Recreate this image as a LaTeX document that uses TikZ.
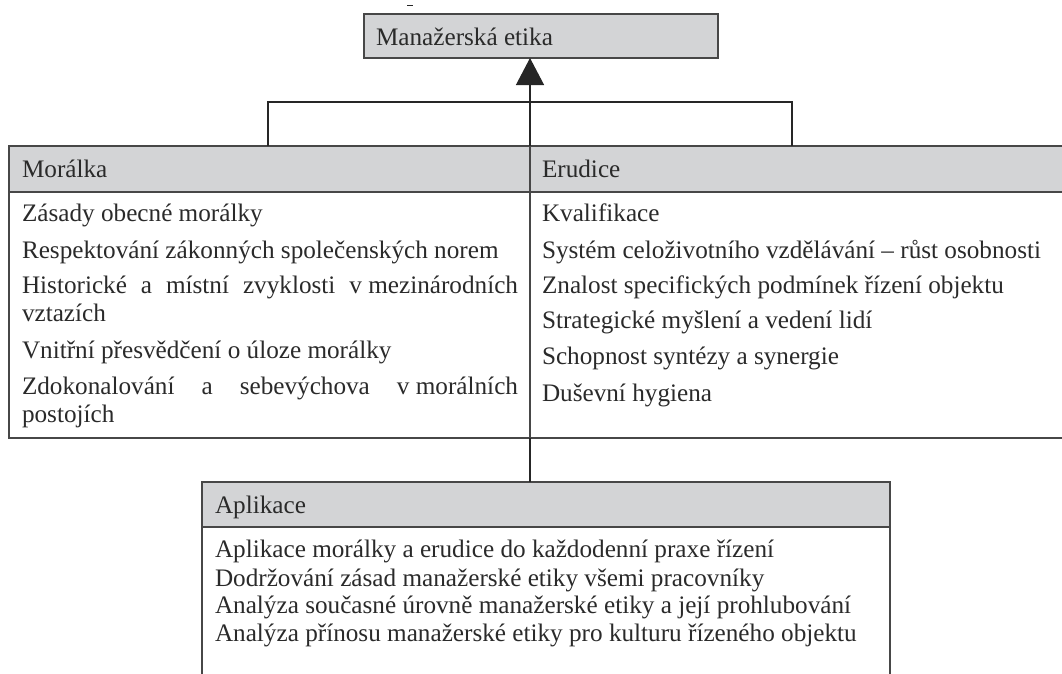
\documentclass[tikz,border=0pt]{standalone}
\usepackage{fontspec}
\setmainfont{Liberation Serif}
\usetikzlibrary{arrows.meta}
\definecolor{hdr}{HTML}{D3D4D6}
\definecolor{ln}{HTML}{474747}
\definecolor{txt}{HTML}{2A2A2A}
\newcommand\diafont{\fontsize{25.2}{28.5}\selectfont\hyphenpenalty 10000\relax\tolerance 10000\relax}
\begin{document}
\begin{tikzpicture}[x=1pt,y=-1pt,
  cell/.style={draw=ln, line width=1.6pt, anchor=north west, inner sep=0pt, outer sep=0pt},
  hcell/.style={cell, fill=hdr},
  lbl/.style={anchor=base west, inner sep=0pt, outer sep=0pt, text=txt, font=\diafont},
  para/.style={lbl, text width=496pt, align=justify},
  conn/.style={draw=black!85, line width=1.3pt}]
\useasboundingbox (0,0) rectangle (1062,673);

% boxes
\node[hcell, minimum width=354pt, minimum height=44pt] (top) at (364,14) {};
\node[hcell, minimum width=521pt, minimum height=46pt] (morh) at (9,146) {};
\node[hcell, minimum width=540pt, minimum height=46pt] (erh) at (530,146) {};
\node[cell, minimum width=521pt, minimum height=246pt] (morb) at (9,192) {};
\node[cell, minimum width=540pt, minimum height=246pt] (erb) at (530,192) {};
\node[hcell, minimum width=688pt, minimum height=45pt] (aplh) at (202,482) {};
\node[cell, minimum width=688pt, minimum height=160pt] (aplb) at (202,527) {};

% connectors
\coordinate (j) at (530,102);
\draw[conn] ([xshift=-1.5pt]morh.north) |- (j) -| ([xshift=-8pt]erh.north);
\draw[conn, -{Triangle[width=28pt,length=27pt]}] (j) -- (top.south -| j);
\draw[conn] (j) -- (morh.north east);
\draw[conn] (morb.south east) -- (morb.south east |- aplh.north);
\draw[conn, line width=1pt] (407,5) -- (413,5);

% texts
\node[lbl] (tt) at (376,45) {Manažerská etika};
\node[lbl] (mt) at (22,177) {Morálka};
\node[lbl] (et) at (542,177) {Erudice};

\node[lbl]  (m1) at (22,221.5) {Zásady obecné morálky};
\node[lbl]  (m2) at (22,258) {Respektování zákonných společenských norem};
\node[para] (m3) at (22,293) {Historické a místní zvyklosti \mbox{v mezinárodních} vztazích};
\node[lbl]  (m4) at (22,358) {Vnitřní přesvědčení o úloze morálky};
\node[para] (m5) at (22,394) {Zdokonalování a sebevýchova \mbox{v morálních} postojích};

\node[lbl] (e1) at (542,221.3) {Kvalifikace};
\node[lbl] (e2) at (542,258) {Systém celoživotního vzdělávání – růst osobnosti};
\node[lbl] (e3) at (542,293) {Znalost specifických podmínek řízení objektu};
\node[lbl] (e4) at (542,328) {Strategické myšlení a vedení lidí};
\node[lbl] (e5) at (542,364) {Schopnost syntézy a synergie};
\node[lbl] (e6) at (542,401) {Duševní hygiena};

\node[lbl] (at) at (215,513) {Aplikace};
\node[lbl] (a1) at (215,557) {Aplikace morálky a erudice do každodenní praxe řízení};
\node[lbl] (a2) at (215,586) {Dodržování zásad manažerské etiky všemi pracovníky};
\node[lbl] (a3) at (215,613) {Analýza současné úrovně manažerské etiky a její prohlubování};
\node[lbl] (a4) at (215,641) {Analýza přínosu manažerské etiky pro kulturu řízeného objektu};
\end{tikzpicture}
\end{document}
